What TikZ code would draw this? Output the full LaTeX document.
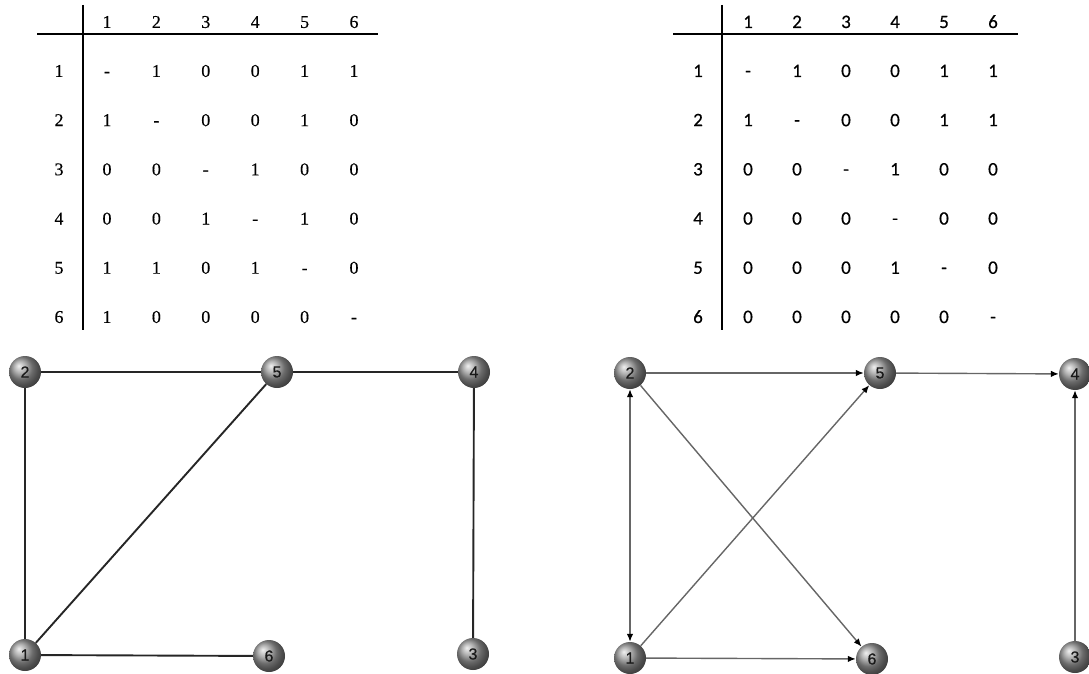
\documentclass[tikz,border=0pt]{standalone}
\usepackage{fontspec}
\setmainfont{Liberation Serif}
\setsansfont{Liberation Sans}
\newfontfamily\serifheavy{Liberation Serif}[FakeBold=0.3]
\newfontfamily\calib{Carlito}[FakeBold=0.4]
\newfontfamily\nodefont{Liberation Sans}[FakeBold=0.5]
\usetikzlibrary{arrows.meta}
\tikzset{
  cellL/.style={font=\serifheavy\fontsize{18}{18}\selectfont, inner sep=0pt, text height=11.8pt, text depth=0pt},
  cellR/.style={font=\calib\fontsize{19}{19}\selectfont, inner sep=0pt, text height=12pt, text depth=0pt},
  rule/.style={line width=1.2pt, black},
  vtx/.style={circle, minimum size=32pt, inner sep=0pt, shading=ball, ball color=gray!80,
              font=\nodefont\fontsize{16}{16}\selectfont, text=black!90},
  uedge/.style={line width=1.9pt, black!85},
  dedge/.style={line width=1.4pt, black!60, -{Latex[length=8pt,width=6.5pt,black]}},
  bedge/.style={line width=1.4pt, black!60, {Latex[length=8pt,width=6.5pt,black]}-{Latex[length=8pt,width=6.5pt,black]}}
}
\begin{document}
\begin{tikzpicture}[x=1pt,y=-1pt]
\useasboundingbox (0,0) rectangle (1089,674);
% ---------- left table ----------
\coordinate (lvt) at (83,5); \coordinate (lvb) at (83,330);
\coordinate (lhl) at (37,34); \coordinate (lhr) at (378,34);
\draw[rule] (lvt) -- (lvb);
\draw[rule] (lhl) -- (lhr);
\foreach \c in {1,...,6}{
  \node[cellL] (LH\c) at ({107+(\c-1)*49.4},22) {\c};
  \node[cellL] (LR\c) at (59,{71+(\c-1)*49.2}) {\c};
}
\foreach \r/\row in {1/{-,1,0,0,1,1},2/{1,-,0,0,1,0},3/{0,0,-,1,0,0},4/{0,0,1,-,1,0},5/{1,1,0,1,-,0},6/{1,0,0,0,0,-}}{
  \foreach \v [count=\c] in \row {
    \node[cellL] (L\r-\c) at ({107+(\c-1)*49.4},{71+(\r-1)*49.2}) {\v};
  }
}
% ---------- right table ----------
\coordinate (rvt) at (722,5); \coordinate (rvb) at (722,330);
\coordinate (rhl) at (673,34); \coordinate (rhr) at (1018,34);
\draw[rule] (rvt) -- (rvb);
\draw[rule] (rhl) -- (rhr);
\foreach \c in {1,...,6}{
  \node[cellR] (RH\c) at ({748+(\c-1)*49},22) {\c};
  \node[cellR] (RR\c) at (698,{71+(\c-1)*49.2}) {\c};
}
\foreach \r/\row in {1/{-,1,0,0,1,1},2/{1,-,0,0,1,1},3/{0,0,-,1,0,0},4/{0,0,0,-,0,0},5/{0,0,0,1,-,0},6/{0,0,0,0,0,-}}{
  \foreach \v [count=\c] in \row {
    \node[cellR] (R\r-\c) at ({748+(\c-1)*49},{71+(\r-1)*49.2}) {\v};
  }
}
% ---------- left graph ----------
\node[vtx] (a2) at (25,372) {2};
\node[vtx] (a5) at (277,372) {5};
\node[vtx] (a4) at (474,372) {4};
\node[vtx] (a1) at (25,655) {1};
\node[vtx] (a6) at (269,656) {6};
\node[vtx] (a3) at (473,654) {3};
\draw[uedge] (a2) -- (a5);
\draw[uedge] (a5) -- (a4);
\draw[uedge] (a2) -- (a1);
\draw[uedge] (a1) -- (a5);
\draw[uedge] (a1) -- (a6);
\draw[uedge] (a4) -- (a3);
% ---------- right graph ----------
\node[vtx] (b2) at (630,373) {2};
\node[vtx] (b5) at (880,373) {5};
\node[vtx] (b4) at (1075,374) {4};
\node[vtx] (b1) at (630,658) {1};
\node[vtx] (b6) at (872,659) {6};
\node[vtx] (b3) at (1075,657) {3};
\draw[dedge] (b2) -- (b5);
\draw[dedge] (b5) -- (b4);
\draw[bedge] (b2) -- (b1);
\draw[dedge] (b1) -- (b5);
\draw[dedge] (b2) -- (b6);
\draw[dedge] (b1) -- (b6);
\draw[dedge] (b3) -- (b4);
\end{tikzpicture}
\end{document}
